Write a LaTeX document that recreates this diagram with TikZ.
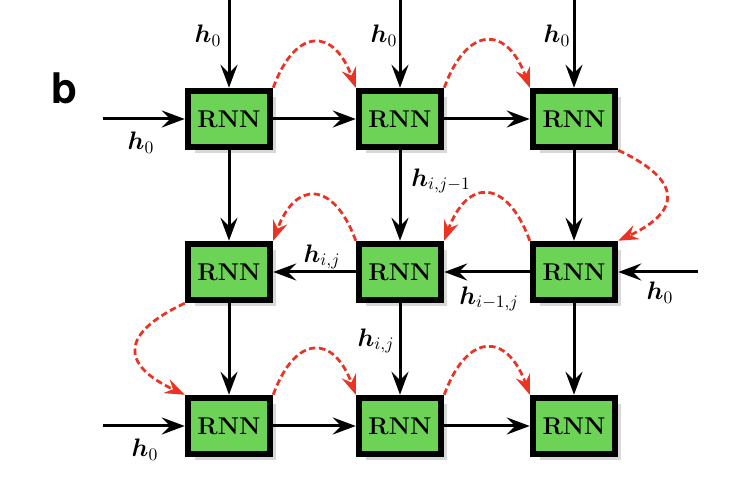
\documentclass[tikz,border=0pt]{standalone}
\usepackage{amsmath}
\usepackage{fontspec}
\newfontfamily\panelfont{TeX Gyre Heros}
\usetikzlibrary{arrows.meta,shadows}

\definecolor{cellgreen}{RGB}{108,211,86}
\definecolor{linkred}{RGB}{234,51,35}

\tikzset{
	rnn/.style={draw, line width=0.13cm, fill=cellgreen, minimum width=1.64cm, minimum height=1.12cm,
		font=\bfseries\fontsize{13.8}{16}\selectfont,
		drop shadow={shadow xshift=0.13cm, shadow yshift=-0.13cm, fill=black!30}},
	flow/.style={-{Stealth[length=0.46cm, width=0.34cm, inset=0.17cm]}, line width=0.06cm},
	link/.style={-{Stealth[length=0.4cm, width=0.3cm, inset=0.14cm]}, linkred, line width=0.055cm,
		dash pattern=on 0.13cm off 0.07cm},
	lab/.style={font=\fontsize{14}{16}\selectfont, inner sep=0pt}
}

\begin{document}
\begin{tikzpicture}[x=0.02cm, y=0.02cm]
	\useasboundingbox (0,0) rectangle (740,492);

	\node[font=\panelfont\bfseries\fontsize{24}{28}\selectfont] (panel) at (64,404) {b};

	% the grid of cells
	\foreach \r/\y in {1/373, 2/220, 3/66}
		\foreach \c/\x in {1/229, 2/400, 3/574}
			\node[rnn] (b\r\c) at (\x,\y) {RNN};

	% free ends of the inputs
	\coordinate (top1) at (229,492);
	\coordinate (top2) at (400,492);
	\coordinate (top3) at (574,492);
	\coordinate (left1) at (103,373);
	\coordinate (right2) at (698,220);
	\coordinate (left3) at (103,66);

	% inputs
	\draw[flow] (top1) -- (b11);
	\draw[flow] (top2) -- (b12);
	\draw[flow] (top3) -- (b13);
	\draw[flow] (left1) -- (b11);
	\draw[flow] (right2) -- (b23);
	\draw[flow] (left3) -- (b31);

	% rows
	\draw[flow] (b11) -- (b12);
	\draw[flow] (b12) -- (b13);
	\draw[flow] (b23) -- (b22);
	\draw[flow] (b22) -- (b21);
	\draw[flow] (b31) -- (b32);
	\draw[flow] (b32) -- (b33);

	% columns
	\foreach \c in {1,2,3} {
		\draw[flow] (b1\c) -- (b2\c);
		\draw[flow] (b2\c) -- (b3\c);
	}

	% scan order
	\draw[link] (b11.north east) to[out=70, in=110, looseness=2] (b12.north west);
	\draw[link] (b12.north east) to[out=70, in=110, looseness=2] (b13.north west);
	\draw[link] (b13.south east) to[out=-25, in=25, looseness=2] (b23.north east);
	\draw[link] (b23.north west) to[out=110, in=70, looseness=2] (b22.north east);
	\draw[link] (b22.north west) to[out=110, in=70, looseness=2] (b21.north east);
	\draw[link] (b21.south west) to[out=-155, in=155, looseness=2] (b31.north west);
	\draw[link] (b31.north east) to[out=70, in=110, looseness=2] (b32.north west);
	\draw[link] (b32.north east) to[out=70, in=110, looseness=2] (b33.north west);

	% labels
	\node[lab] (ht1) at (208,456) {$\boldsymbol{h}_0$};
	\node[lab] (ht2) at (384,456) {$\boldsymbol{h}_0$};
	\node[lab] (ht3) at (557,456) {$\boldsymbol{h}_0$};
	\node[lab] (hl1) at (141,349) {$\boldsymbol{h}_0$};
	\node[lab] (hr2) at (660,199) {$\boldsymbol{h}_0$};
	\node[lab] (hl3) at (145,42) {$\boldsymbol{h}_0$};
	\node[lab] (hv12) at (441,311) {$\boldsymbol{h}_{i,j-1}$};
	\node[lab] (hh22) at (322,235) {$\boldsymbol{h}_{i,j}$};
	\node[lab] (hh23) at (489,193) {$\boldsymbol{h}_{i-1,j}$};
	\node[lab] (hv22) at (376,151) {$\boldsymbol{h}_{i,j}$};
\end{tikzpicture}
\end{document}
